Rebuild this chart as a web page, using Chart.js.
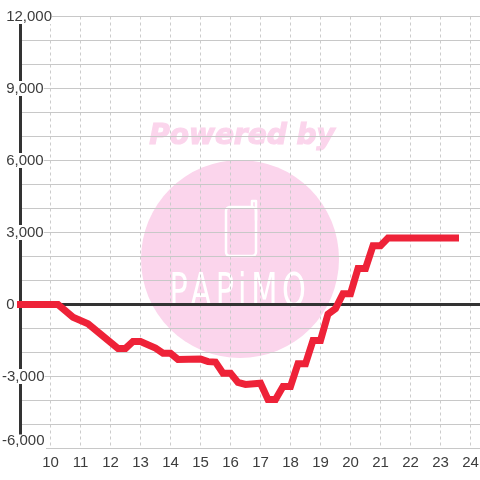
<!DOCTYPE html>
<html>
<head>
<meta charset="utf-8">
<style>
  html, body { margin: 0; padding: 0; background: #fff; }
  canvas { display: block; }
</style>
<script src="https://cdn.jsdelivr.net/npm/chart.js@4"></script>
</head>
<body>
<canvas id="chart" width="480" height="480"></canvas>
<script>
  const hours = [9, 10.25, 10.75, 11.25, 12.25, 12.5, 12.75, 13, 13.5, 13.75, 14, 14.25, 15, 15.25, 15.5, 15.75, 16, 16.25, 16.5, 17, 17.25, 17.5, 17.75, 18, 18.25, 18.5, 18.75, 19, 19.25, 19.5, 19.75, 20, 20.25, 20.5, 20.75, 21, 21.25, 23.5];
  const values = [0, 0, -530, -800, -1830, -1830, -1540, -1540, -1820, -2030, -2030, -2290, -2270, -2380, -2400, -2860, -2860, -3250, -3330, -3280, -3960, -3960, -3420, -3420, -2470, -2470, -1500, -1500, -400, -170, 450, 450, 1500, 1500, 2450, 2450, 2770, 2770];
  // last label sits one half line above its tick, so it gets an empty second line
  const yLabels = { '12000': ' 12,000', '9000': ' 9,000', '6000': ' 6,000', '3000': ' 3,000', '0': ' 0', '-3000': '-3,000', '-6000': ['-6,000', ''] };

  const FONT = { family: '"Liberation Sans"', size: 15, lineHeight: 1 };

  /* ── Watermark behind the grid ── */
  const watermark = {
    id: 'watermark',
    beforeDraw(chart) {
      const c = chart.ctx;
      c.save();
      c.fillStyle = '#fff';
      c.fillRect(0, 0, 480, 480);

      c.fillStyle = '#fbd5ec';
      c.strokeStyle = '#fbd5ec';
      c.beginPath();
      c.arc(240, 259, 99, 0, Math.PI * 2);
      c.fill();

      c.font = 'italic bold 28px "DejaVu Sans"';
      c.textAlign = 'center';
      c.textBaseline = 'alphabetic';
      c.lineWidth = 1.2;
      c.fillText('Powered by', 242, 144);
      c.strokeText('Powered by', 242, 144);

      // phone icon
      c.strokeStyle = '#fff';
      c.lineWidth = 2.5;
      c.lineJoin = 'round';
      c.beginPath();
      c.roundRect(226, 207, 30, 49, 4);
      c.stroke();
      c.lineCap = 'round';
      c.beginPath();
      c.moveTo(252, 207);
      c.lineTo(252, 201);
      c.lineTo(256, 201);
      c.lineTo(256, 220);
      c.stroke();

      c.fillStyle = '#fff';
      c.font = '46px "DejaVu Sans"';
      c.letterSpacing = '7px';
      c.save();
      c.translate(240, 306);
      c.scale(0.66, 1);
      c.fillText('PAPiMO', 0, 0);
      c.restore();
      c.restore();
    },
    // white patch under the -6,000 label (its own backdrop would wipe the text)
    afterDatasetsDraw(chart) {
      const c = chart.ctx;
      const py = chart.scales.y.getPixelForValue(-6000);
      c.save();
      c.fillStyle = '#fff';
      c.fillRect(0, py - 14, 46, 16);
      c.restore();
    }
  };

  new Chart(document.getElementById('chart'), {
    type: 'line',
    data: {
      datasets: [{
        data: hours.map((h, i) => ({ x: h, y: values[i] })),
        borderColor: '#ee2238',
        borderWidth: 7,
        borderCapStyle: 'square',
        borderJoinStyle: 'miter',
        tension: 0,
        pointRadius: 0,
        clip: false,
      }]
    },
    options: {
      responsive: false,
      animation: false,
      layout: { padding: { left: 2, top: 16.5, right: 0, bottom: 0 } },
      plugins: { legend: { display: false }, tooltip: { enabled: false } },
      scales: {
        x: {
          type: 'linear',
          min: 9,
          max: 24.317,
          afterFit: s => { s.height = 31.5; s.paddingLeft = 0; s.paddingRight = 0; },
          border: { display: false, dash: [3, 3] },
          grid: { color: '#cccccc', drawTicks: false },
          ticks: {
            stepSize: 1,
            includeBounds: false,
            autoSkip: false,
            maxRotation: 0,
            padding: 7,
            color: '#3c3c3c',
            font: FONT,
            callback: v => (v === 9 ? '' : String(v)),
          }
        },
        y: {
          min: -6000,
          max: 12000,
          afterFit: s => { s.width = 18.5; s.paddingTop = 0; s.paddingBottom = 0; },
          border: { display: true, width: 3, color: '#333' },
          grid: {
            drawTicks: false,
            color: ctx => (ctx.tick && ctx.tick.value === 0 ? '#333' : '#c8c8c8'),
            lineWidth: ctx => (ctx.tick && ctx.tick.value === 0 ? 3 : 1),
          },
          ticks: {
            stepSize: 1000,
            autoSkip: false,
            mirror: true,
            padding: -18.5,
            z: 1,
            color: '#3c3c3c',
            font: FONT,
            showLabelBackdrop: true,
            backdropColor: ctx => (ctx.tick && ctx.tick.value === -6000 ? 'rgba(0,0,0,0)' : '#fff'),
            backdropPadding: 0,
            callback: v => yLabels[String(v)] || '',
          }
        }
      }
    },
    plugins: [watermark]
  });
</script>
</body>
</html>
